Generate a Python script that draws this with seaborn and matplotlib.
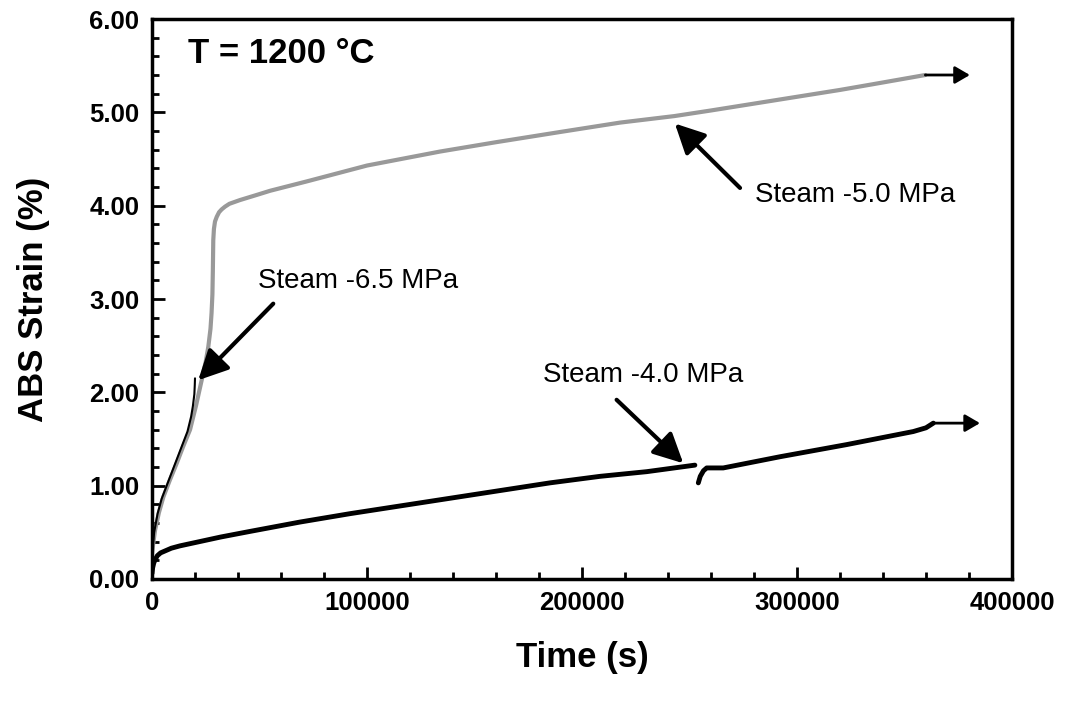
import numpy as np
import pandas as pd
import matplotlib
matplotlib.use("Agg")
import matplotlib.pyplot as plt
import seaborn as sns

# ---- data ----
# Steam -5.0 MPa (grey)
t_50 = [0, 700, 1400, 3200, 5300, 8300, 11500, 14500, 17700, 20500, 23100,
        25000, 26200, 27200, 27700, 28100, 28300, 28500, 28800, 29300,
        30100, 31200, 32400, 34000, 36000, 40900, 48000, 55000, 72000,
        100000, 134000, 160000, 190000, 217700, 243000, 260000, 290000,
        320000, 335000, 359700]
s_50 = [0.28, 0.40, 0.52, 0.71, 0.88, 1.06, 1.24, 1.42, 1.60, 1.86, 2.13,
        2.33, 2.49, 2.68, 2.85, 3.05, 3.30, 3.63, 3.75, 3.83,
        3.88, 3.93, 3.96, 3.99, 4.02, 4.06, 4.11, 4.16, 4.26,
        4.43, 4.58, 4.68, 4.79, 4.89, 4.96, 5.02, 5.13,
        5.24, 5.30, 5.40]

# Steam -6.5 MPa (black, short)
t_65 = [0, 1000, 2600, 4500, 7500, 10500, 13500, 16500, 18200, 19000,
        19700, 19900, 20000]
s_65 = [0.25, 0.50, 0.70, 0.86, 1.04, 1.22, 1.40, 1.58, 1.74, 1.85,
        1.98, 2.08, 2.15]

# Steam -4.0 MPa (black), two segments
t_40a = [0, 300, 800, 1500, 2500, 4000, 6000, 9000, 13000, 18000, 24000,
         32000, 45600, 68800, 92100, 123100, 154100, 185100, 208400,
         230100, 252500]
s_40a = [0.06, 0.12, 0.17, 0.21, 0.25, 0.28, 0.30, 0.33, 0.355, 0.38, 0.41,
         0.45, 0.51, 0.61, 0.70, 0.81, 0.92, 1.03, 1.10,
         1.15, 1.22]
t_40b = [254100, 255000, 256500, 258000, 262000, 265700, 292100, 323100,
         354100, 360000, 363400]
s_40b = [1.03, 1.10, 1.16, 1.19, 1.19, 1.19, 1.31, 1.44, 1.58, 1.62, 1.67]

# run-out arrows (test continued)
runout_50 = [359700, 380400, 5.40]
runout_40 = [363400, 385100, 1.67]

# annotations: label, text position, arrow tail, arrow tip
labels = ["Steam -6.5 MPa", "Steam -5.0 MPa", "Steam -4.0 MPa"]
label_xy = [(49400, 3.19), (280500, 4.11), (182000, 2.19)]
arrow_tail = [(56400, 2.95), (273500, 4.19), (216100, 1.92)]
arrow_tip = [(21500, 2.13), (243200, 4.88), (247100, 1.24)]

temp_text = "T = 1200 \u00b0C"
x_ticks = [0, 100000, 200000, 300000, 400000]
y_ticks = [0, 1, 2, 3, 4, 5, 6]

# ---- styling ----
sns.set_style("ticks", {"xtick.direction": "in", "ytick.direction": "in"})
plt.rcParams["font.family"] = ["Liberation Sans", "DejaVu Sans"]
plt.rcParams["text.color"] = "black"
plt.rcParams["axes.labelcolor"] = "black"
plt.rcParams["xtick.color"] = "black"
plt.rcParams["ytick.color"] = "black"

fig = plt.figure(figsize=(10.70, 7.11), dpi=100)
ax = fig.add_axes([152 / 1070, 1 - 579 / 711, 860 / 1070, 560 / 711])

grey = "#999999"
sns.lineplot(x=t_50, y=s_50, ax=ax, color=grey, lw=3.0, sort=False,
             estimator=None)
sns.lineplot(x=t_65, y=s_65, ax=ax, color="black", lw=1.5, sort=False,
             estimator=None)
sns.lineplot(x=t_40a, y=s_40a, ax=ax, color="black", lw=3.5, sort=False,
             estimator=None)
sns.lineplot(x=t_40b, y=s_40b, ax=ax, color="black", lw=3.5, sort=False,
             estimator=None)

for r in (runout_50, runout_40):
    ax.annotate("", xy=(r[1], r[2]), xytext=(r[0], r[2]),
                arrowprops=dict(arrowstyle="-|>,head_length=0.6,head_width=0.35",
                                color="black", lw=2, mutation_scale=15,
                                shrinkA=0, shrinkB=0))

for lab, lxy, tail, tip in zip(labels, label_xy, arrow_tail, arrow_tip):
    ax.text(lxy[0], lxy[1], lab, fontsize=20, ha="left", va="center",
            color="black")
    ax.annotate("", xy=tip, xytext=tail,
                arrowprops=dict(arrowstyle="-|>,head_length=0.4,head_width=0.2",
                                color="black", lw=3, mutation_scale=45,
                                shrinkA=0, shrinkB=0))

ax.text(16900, 5.63, temp_text, fontsize=25, fontweight="bold",
        ha="left", va="center", color="black")

ax.set_xlim(0, 400000)
ax.set_ylim(0, 6)
ax.set_xticks(x_ticks)
ax.set_xticklabels([str(v) for v in x_ticks])
ax.set_yticks(y_ticks)
ax.set_yticklabels([f"{v:.2f}" for v in y_ticks])
ax.set_xticks(np.arange(0, 400001, 20000), minor=True)
ax.set_yticks(np.arange(0, 6.001, 0.2), minor=True)

ax.tick_params(axis="both", which="major", direction="in", length=9, width=2,
               labelsize=18.5, pad=9, right=False, top=False, colors="black")
ax.tick_params(axis="both", which="minor", direction="in", length=5, width=2,
               right=False, top=False, colors="black")
for lbl in ax.get_xticklabels() + ax.get_yticklabels():
    lbl.set_fontweight("bold")

for sp in ax.spines.values():
    sp.set_visible(True)
    sp.set_linewidth(2.5)
    sp.set_color("black")

ax.set_xlabel("Time (s)", fontsize=25, fontweight="bold", labelpad=18)
ax.set_ylabel("ABS Strain (%)", fontsize=25, fontweight="bold")
ax.yaxis.set_label_coords(-0.119, 0.5)

fig.savefig("out.png", dpi=100, facecolor="white")
